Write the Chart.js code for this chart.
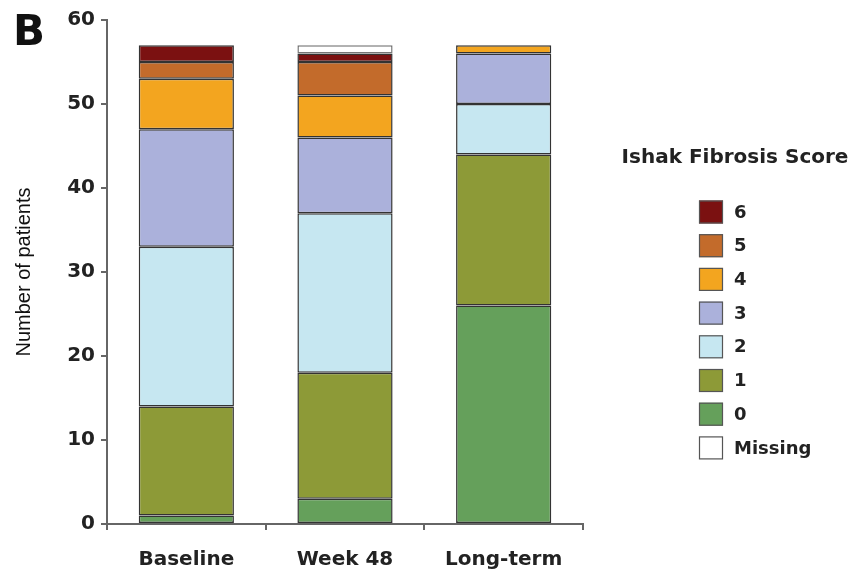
<!DOCTYPE html>
<html>
<head>
<meta charset="utf-8">
<script src="https://cdn.jsdelivr.net/npm/chart.js@4/dist/chart.umd.min.js"></script>
<style>
  html, body { margin: 0; padding: 0; background: #fff; }
  #wrap { width: 858px; height: 573px; }
</style>
</head>
<body>
<div id="wrap"><canvas id="chart-fibrose" width="858" height="573"></canvas></div>
<script>
const periodos = ['Baseline', 'Week 48', 'Long-term'];
const scores = ['0', '1', '2', '3', '4', '5', '6', 'Missing'];
const cores = ['#65a05b', '#8d9a37', '#c6e7f1', '#abb1db', '#f3a51f', '#c36b2b', '#7b1111', '#ffffff'];

// patients per score, one array per period (order of scores above)
const baseline = [1, 13, 19, 14, 6, 2, 2, 0];
const week48 = [3, 15, 19, 9, 5, 4, 1, 1];
const longTerm = [26, 18, 6, 6, 1, 0, 0, 0];

const yTicks = [0, 10, 20, 30, 40, 50, 60];
const legendOrder = ['6', '5', '4', '3', '2', '1', '0', 'Missing'];

const porPeriodo = [baseline, week48, longTerm];
const datasets = scores.map((score, i) => ({
    label: score,
    data: porPeriodo.map(p => p[i]),
    backgroundColor: cores[i],
    borderColor: score === 'Missing' ? '#777' : '#333',
    borderWidth: 1.5,
    borderSkipped: false,
    barPercentage: 0.6,
    categoryPercentage: 1.0
}));

// legend block on the right + panel letter
const extras = {
    id: 'extras',
    afterDraw(chart) {
        const ctx = chart.ctx;
        ctx.save();
        ctx.fillStyle = '#111';
        ctx.font = 'bold 42px "DejaVu Sans"';
        ctx.textBaseline = 'alphabetic';
        ctx.textAlign = 'left';
        ctx.fillText('B', 13, 45);

        ctx.fillStyle = '#222';
        ctx.font = 'bold 20px "DejaVu Sans"';
        ctx.textAlign = 'center';
        ctx.textBaseline = 'middle';
        ctx.fillText('Ishak Fibrosis Score', 735, 158);

        ctx.font = 'bold 18px "DejaVu Sans"';
        ctx.textAlign = 'left';
        legendOrder.forEach((lbl, k) => {
            const ds = chart.data.datasets.find(d => d.label === lbl);
            const cy = 212 + k * 33.7;
            ctx.fillStyle = ds.backgroundColor;
            ctx.fillRect(699, cy - 11.5, 24, 23);
            ctx.strokeStyle = '#555';
            ctx.lineWidth = 1.2;
            ctx.strokeRect(699.5, cy - 11, 23, 22);
            ctx.fillStyle = '#222';
            ctx.fillText(lbl, 734, cy + 1);
        });
        ctx.restore();
    }
};

new Chart(document.getElementById('chart-fibrose'), {
    type: 'bar',
    data: { labels: periodos, datasets },
    options: {
        responsive: false,
        animation: false,
        layout: { padding: { left: 0, top: 20, right: 275, bottom: 0 } },
        plugins: { legend: { display: false }, tooltip: { enabled: false } },
        scales: {
            x: {
                stacked: true,
                grid: { display: true, offset: true, drawOnChartArea: false, drawTicks: true, tickLength: 6, color: '#666', lineWidth: 2 },
                border: { display: true, color: '#666', width: 2 },
                ticks: { color: '#222', padding: 18, font: { family: 'DejaVu Sans', size: 20, weight: 'bold' } },
                afterFit(scale) { scale.height = 49; }
            },
            y: {
                stacked: true,
                min: 0,
                max: 60,
                afterBuildTicks(scale) { scale.ticks = yTicks.map(v => ({ value: v })); },
                grid: { display: true, drawOnChartArea: false, drawTicks: true, tickLength: 6, color: '#666', lineWidth: 2 },
                border: { display: true, color: '#666', width: 2 },
                ticks: { color: '#222', padding: 6, font: { family: 'DejaVu Sans', size: 20, weight: 'bold' } },
                title: {
                    display: true,
                    text: 'Number of patients',
                    color: '#111',
                    padding: { top: 12, bottom: 0 },
                    font: { family: 'Liberation Sans', size: 20 }
                },
                afterFit(scale) { scale.width = 107; }
            }
        }
    },
    plugins: [extras]
});
</script>
</body>
</html>
